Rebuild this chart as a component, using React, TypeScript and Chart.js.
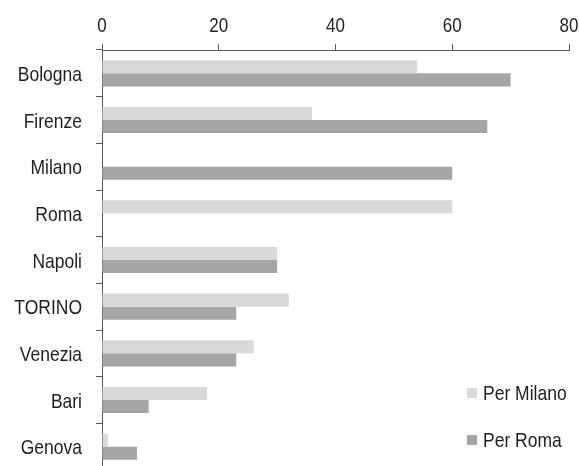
import React, { useEffect, useRef } from "react";
import { Chart, registerables } from "chart.js";

Chart.register(...registerables);

const cities = ["Bologna", "Firenze", "Milano", "Roma", "Napoli", "TORINO", "Venezia", "Bari", "Genova"];
const perMilano = [54, 36, 0, 60, 30, 32, 26, 18, 1];
const perRoma = [70, 66, 60, 0, 30, 23, 23, 8, 6];
const seriesNames = ["Per Milano", "Per Roma"];

const LIGHT = "#d9d9d9";
const DARK = "#a6a6a6";
const AXIS = "#595959";
const TEXT = "#1e1e1e";
const FAMILY = "'Liberation Sans', Arial, sans-serif";
const LABEL_SIZE = 17.5;
const TICK_SIZE = 17;
const STRETCH = 1.15; // labels are drawn slightly taller than wide

function tallText(ctx: CanvasRenderingContext2D, text: string, x: number, y: number, align: CanvasTextAlign) {
  ctx.save();
  ctx.translate(x, y);
  ctx.scale(1, STRETCH);
  ctx.textAlign = align;
  ctx.textBaseline = "alphabetic";
  ctx.fillText(text, 0, 0);
  ctx.restore();
}

// Axis labels and a legend in the lower right corner of the plot area
const textLayer = {
  id: "textLayer",
  afterDraw(chart: any) {
    const { ctx, chartArea, scales } = chart;
    ctx.save();
    ctx.fillStyle = TEXT;

    ctx.font = `${TICK_SIZE}px ${FAMILY}`;
    scales.x.ticks.forEach((t: any) => {
      tallText(ctx, String(t.value), scales.x.getPixelForValue(t.value), chartArea.top - 18, "center");
    });

    ctx.font = `${LABEL_SIZE}px ${FAMILY}`;
    chart.data.labels.forEach((lab: string, i: number) => {
      tallText(ctx, lab, chartArea.left - 20, scales.y.getPixelForValue(i) + 7.5, "right");
    });

    chart.data.datasets.forEach((ds: any, i: number) => {
      const cy = chartArea.bottom - 77 + i * 47;
      const x = chartArea.right - 102;
      ctx.fillStyle = ds.backgroundColor;
      ctx.fillRect(x, cy - 5, 10, 10);
      ctx.fillStyle = TEXT;
      tallText(ctx, ds.label, x + 16, cy + 7, "left");
    });
    ctx.restore();
  },
};

export default function App() {
  const ref = useRef<HTMLCanvasElement | null>(null);

  useEffect(() => {
    if (!ref.current) return;
    const chart = new Chart(ref.current, {
      type: "bar",
      data: {
        labels: cities,
        datasets: [
          { label: seriesNames[0], data: perMilano, backgroundColor: LIGHT, borderWidth: 0 },
          { label: seriesNames[1], data: perRoma, backgroundColor: DARK, borderWidth: 0 },
        ],
      },
      plugins: [textLayer],
      options: {
        indexAxis: "y",
        animation: false,
        responsive: false,
        layout: { padding: { left: 0, top: 0, right: 10, bottom: 0 } },
        datasets: { bar: { categoryPercentage: 0.56, barPercentage: 1 } },
        plugins: { legend: { display: false }, tooltip: { enabled: false } },
        scales: {
          x: {
            position: "top",
            min: 0,
            max: 80,
            ticks: { stepSize: 20, display: false },
            grid: { drawOnChartArea: false, drawTicks: true, tickLength: 6, color: AXIS },
            border: { display: true, color: AXIS, width: 1 },
            afterFit: (scale: any) => {
              scale.height = 50;
              scale.paddingLeft = 0;
              scale.paddingRight = 0;
            },
          },
          y: {
            ticks: { display: false },
            grid: { drawOnChartArea: false, drawTicks: true, tickLength: 6, color: AXIS, offset: true },
            border: { display: true, color: AXIS, width: 1 },
            afterFit: (scale: any) => {
              scale.width = 102;
              scale.paddingTop = 0;
              scale.paddingBottom = 0;
            },
          },
        },
      },
    });
    return () => chart.destroy();
  }, []);

  return (
    <div style={{ position: "fixed", left: 0, top: 0, width: 579, height: 466, overflow: "hidden", background: "#fff" }}>
      <canvas ref={ref} width={579} height={470} style={{ display: "block" }} />
    </div>
  );
}
